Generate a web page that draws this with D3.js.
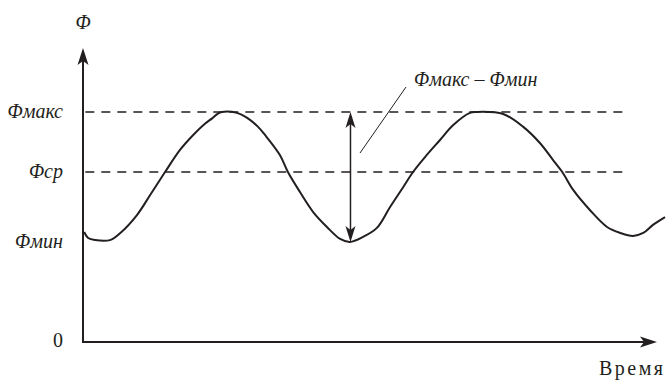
<!DOCTYPE html>
<html>
<head>
<meta charset="utf-8">
<script src="https://cdn.jsdelivr.net/npm/d3@7"></script>
<style>
  body { margin: 0; background: #fff; }
  svg { display: block; }
</style>
</head>
<body>
<svg id="chart" width="671" height="381"></svg>
<script>
// Time (arbitrary units) and flux values
const time = [0.2, 0.9, 2.1, 4.7, 6.5, 9.4, 11.7, 14.3, 16.9, 19.2, 21.3, 22.5, 23.5, 24.2, 26.8,
  28.6, 30.5, 31.7, 34.3, 35.7, 37.8, 40.1, 42.5, 44.8, 46.5, 48.8, 51.2, 53.5, 55.8, 57.5,
  59.9, 62.2, 64.5, 67.4, 68.6, 73.2, 76.7, 79.6, 81.9, 83.5, 85.4, 88.3, 91.3, 93.6, 95.8,
  97.6, 99.3, 101.4];
const flux = [4.78, 4.52, 4.43, 4.43, 4.74, 5.52, 6.39, 7.39, 8.35, 9.0, 9.5, 9.72, 9.93, 10.0, 9.96,
  9.74, 9.35, 9.0, 8.13, 7.39, 6.52, 5.65, 5.0, 4.48, 4.35, 4.57, 4.96, 5.87, 6.74, 7.39,
  8.13, 8.78, 9.43, 9.96, 10.0, 9.91, 9.35, 8.65, 7.91, 7.39, 6.61, 5.74, 5.0, 4.74, 4.61,
  4.74, 5.09, 5.43];

// reference levels and their tick labels
const levelValues = [0, 4.35, 7.39, 10.0];
const levelLabels = ['0', 'Φмин', 'Φср', 'Φмакс'];
const dashedLevels = [7.39, 10.0];
const rangeFrom = 10.0, rangeTo = 4.35;   // the double arrow
const arrowTime = 46.6;

const svg = d3.select('#chart');
const x = d3.scaleLinear().domain([0, 100]).range([83, 657]);
const y = d3.scaleLinear().domain([0, 12.78]).range([342, 48]);
const ink = '#231f20';
const serif = 'Liberation Serif';

// arrow head pointing up, tip at (0,0)
function headPath(len, half) {
  return `M0,0 L${half},${len} L0,${len - 4} L${-half},${len} Z`;
}

// dashed reference lines
svg.selectAll('.lvl')
  .data(dashedLevels)
  .enter().append('line')
  .attr('class', 'lvl')
  .attr('x1', x(0.4)).attr('x2', x(94.6))
  .attr('y1', d => y(d)).attr('y2', d => y(d))
  .attr('stroke', ink).attr('stroke-width', 1.6)
  .attr('stroke-dasharray', '9,7');

// axes
const yAxis = svg.append('g')
  .attr('transform', `translate(${x(0)},0)`)
  .call(d3.axisLeft(y).tickValues(levelValues).tickSize(0).tickPadding(20)
    .tickFormat((d, i) => levelLabels[i]));
yAxis.select('.domain').remove();
yAxis.attr('font-family', serif).attr('font-size', 20);
yAxis.selectAll('text')
  .attr('fill', ink)
  .attr('font-style', (d, i) => i === 0 ? 'normal' : 'italic')
  .attr('dy', (d, i) => i === 0 ? '0.2em' : '0.3em');

svg.append('line')
  .attr('x1', x(0)).attr('x2', x(0))
  .attr('y1', y(0) + 1).attr('y2', y(12.78) + 10)
  .attr('stroke', ink).attr('stroke-width', 2);
svg.append('line')
  .attr('x1', x(0) - 1).attr('x2', x(100) - 10)
  .attr('y1', y(0)).attr('y2', y(0))
  .attr('stroke', ink).attr('stroke-width', 2);

svg.append('path')
  .attr('d', headPath(17, 5.5))
  .attr('transform', `translate(${x(0)},${y(12.78)})`)
  .attr('fill', ink);
svg.append('path')
  .attr('d', headPath(17, 5.5))
  .attr('transform', `translate(${x(100)},${y(0)}) rotate(90)`)
  .attr('fill', ink);

// axis titles
svg.append('text')
  .attr('font-family', serif).attr('font-size', 20).attr('font-style', 'italic').attr('fill', ink)
  .attr('x', x(0)).attr('y', 29).attr('text-anchor', 'middle')
  .text('Φ');
svg.append('text')
  .attr('font-family', serif).attr('font-size', 20).attr('fill', ink)
  .attr('letter-spacing', 2.5)
  .attr('x', 599).attr('y', 375)
  .text('Время');

// the curve
const line = d3.line()
  .x((d, i) => x(time[i]))
  .y(d => y(d))
  .curve(d3.curveCatmullRom.alpha(0.5));
svg.append('path')
  .datum(flux)
  .attr('d', line)
  .attr('fill', 'none')
  .attr('stroke', ink)
  .attr('stroke-width', 2);

// double arrow between max and min
const ax = x(arrowTime);
svg.append('line')
  .attr('x1', ax).attr('x2', ax)
  .attr('y1', y(rangeFrom) + 8).attr('y2', y(rangeTo) - 8)
  .attr('stroke', ink).attr('stroke-width', 1.5);
svg.append('path')
  .attr('d', headPath(16, 5))
  .attr('transform', `translate(${ax},${y(rangeFrom)})`)
  .attr('fill', ink);
svg.append('path')
  .attr('d', headPath(16, 5))
  .attr('transform', `translate(${ax},${y(rangeTo)}) rotate(180)`)
  .attr('fill', ink);

// leader line and label
svg.append('line')
  .attr('x1', 406).attr('y1', 87).attr('x2', 360).attr('y2', 153)
  .attr('stroke', ink).attr('stroke-width', 1);
svg.append('text')
  .attr('font-family', serif).attr('font-size', 20).attr('font-style', 'italic').attr('fill', ink)
  .attr('x', 414).attr('y', 86)
  .text('Φмакс – Φмин');
</script>
</body>
</html>
